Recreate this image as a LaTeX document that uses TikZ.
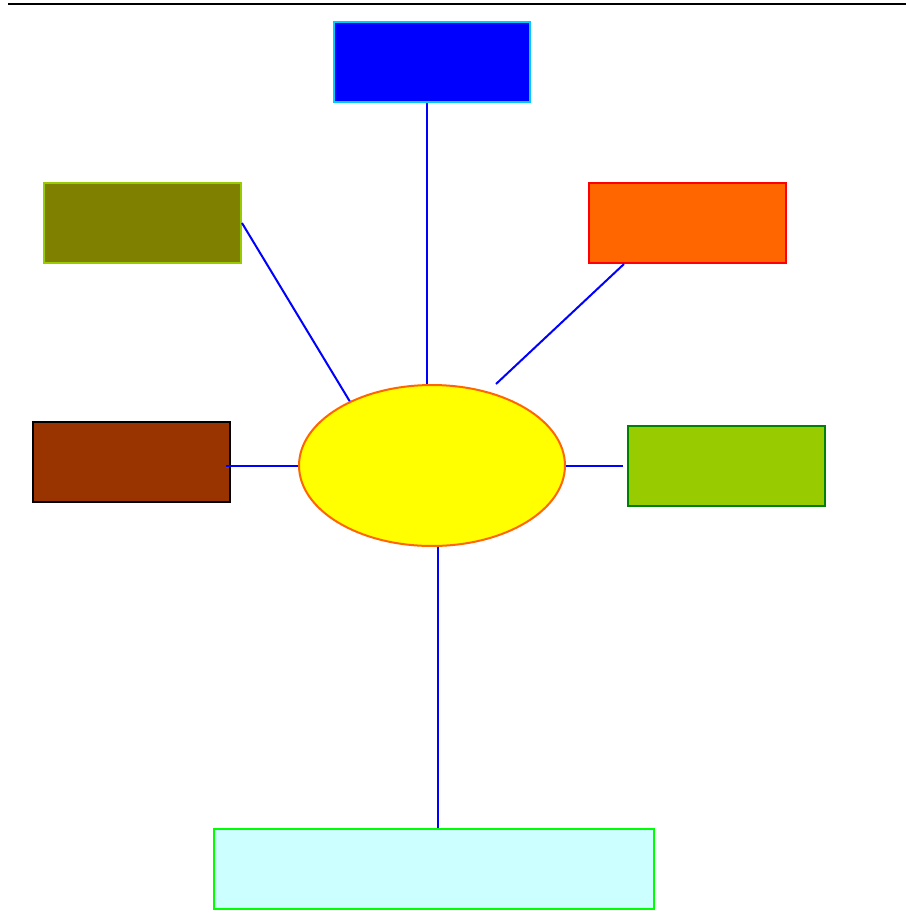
\documentclass[tikz,border=0pt]{standalone}
\usepackage{tikz}
\usetikzlibrary{shapes.geometric,positioning}

\definecolor{skyedge}{HTML}{00CCFF}
\definecolor{oliveedge}{HTML}{99CC00}
\definecolor{olivefill}{HTML}{808000}
\definecolor{orangefill}{HTML}{FF6600}
\definecolor{brownfill}{HTML}{993300}
\definecolor{limefill}{HTML}{99CC00}
\definecolor{limeedge}{HTML}{008000}
\definecolor{icefill}{HTML}{CCFFFF}
\definecolor{iceedge}{HTML}{00FF00}
\definecolor{hubfill}{HTML}{FFFF00}
\definecolor{linkblue}{HTML}{0000FF}

\tikzset{
	box/.style={draw, rectangle, line width=0.04cm, minimum width=3.94cm, minimum height=1.6cm, inner sep=0pt},
	link/.style={draw, linkblue, line width=0.04cm}
}

\begin{document}
\begin{tikzpicture}[x=0.02cm, y=-0.02cm]
		\useasboundingbox (0,0) rectangle (906,921);
		\draw[line width=0.04cm] (8,4) -- (906,4);
		\draw (432,465.5) node [draw=orangefill, fill=hubfill, ellipse, line width=0.04cm, minimum width=5.32cm, minimum height=3.22cm, inner sep=0pt] (hub) {};
		\draw (432,62) node [box, draw=skyedge, fill=linkblue] (top) {};
		\draw (142.5,223) node [box, draw=oliveedge, fill=olivefill] (ul) {};
		\draw (687.5,223) node [box, draw=red, fill=orangefill] (ur) {};
		\draw (131.5,462) node [box, draw=black, fill=brownfill] (left) {};
		\draw (726.5,466) node [box, draw=limeedge, fill=limefill] (right) {};
		\draw (434,869) node [box, draw=iceedge, fill=icefill, minimum width=8.8cm] (bottom) {};
		\coordinate (gap) at (496,384);
		\path[link]
			([xshift=-0.1cm]top.south) edge ([xshift=-0.1cm]hub.north)
			(ul.east) edge (hub.142)
			([xshift=-1.27cm]ur.south) edge (gap)
			([xshift=-0.1cm]left.east |- hub.west) edge (hub.west)
			(hub.east) edge [shorten >=0.08cm] (hub.east -| right.west)
			([xshift=0.12cm]hub.south) edge ([xshift=0.12cm]hub.south |- bottom.north);
	\end{tikzpicture}
\end{document}
